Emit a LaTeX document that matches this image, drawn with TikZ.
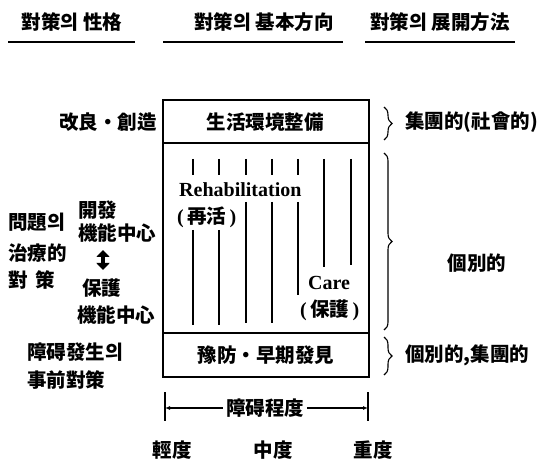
\documentclass[tikz,border=0pt]{standalone}
\usepackage{fontspec}
\setmainfont{Liberation Serif}
\newfontfamily\cjk{Noto Sans CJK KR}
\usetikzlibrary{decorations.pathreplacing,arrows.meta}
\newcommand\cjkfont{\cjk\bfseries\fontsize{19.5}{23}\selectfont}
\tikzset{
  cjktext/.style={inner sep=0pt,font=\cjkfont},
  lattext/.style={inner sep=0pt,font=\bfseries\fontsize{20}{24}\selectfont},
  boxline/.style={line width=1.8pt},
  vline/.style={line width=1.3pt},
  uline/.style={line width=2.4pt},
  rbrace/.style={decorate,decoration={brace,amplitude=8pt},line width=1.1pt},
  ruler/.style={line width=1.2pt},
  fatarrow/.style={line width=4pt,{Triangle[length=7pt,width=13pt]}-{Triangle[length=7pt,width=13pt]}}
}
\begin{document}
\begin{tikzpicture}[x=1pt,y=-1pt]
\useasboundingbox (0,0) rectangle (549,465);
% headers
\node[cjktext] (h1) at (72,22) {對策의 性格};
\node[cjktext] (h2) at (264,22) {對策의 基本方向};
\node[cjktext] (h3) at (440,22) {對策의 展開方法};
\coordinate (u1a) at (8,42); \coordinate (u1b) at (135,42);
\coordinate (u2a) at (163,42); \coordinate (u2b) at (343,42);
\coordinate (u3a) at (365,42); \coordinate (u3b) at (515,42);
\draw[uline] (u1a) -- (u1b);
\draw[uline] (u2a) -- (u2b);
\draw[uline] (u3a) -- (u3b);
% main box
\draw[boxline] (163,100) rectangle (369,377);
\draw[boxline] (163,143) -- (369,143);
\draw[boxline] (163,333) -- (369,333);
\node[cjktext] (top) at (265,122) {生活環境整備};
\node[cjktext] (bot) at (266,355) {豫防・早期發見};
% vertical lines
\foreach \x in {193,219,246,272,298} \draw[vline] (\x,159) -- (\x,175);
\draw[vline] (324,159) -- (324,267);
\draw[vline] (351,159) -- (351,265);
\draw[vline] (246,202) -- (246,323);
\draw[vline] (272,202) -- (272,323);
\draw[vline] (298,202) -- (298,295);
\draw[vline] (193,230) -- (193,325);
\draw[vline] (219,230) -- (219,325);
\node[lattext,anchor=west] (rehab) at (179,190) {Rehabilitation};
\node[lattext,anchor=west] (rehabk) at (177,217) {(\,{\cjkfont 再活}\,)};
\node[lattext,anchor=west] (care) at (308,283) {Care};
\node[lattext,anchor=west] (carek) at (300,310) {(\,{\cjkfont 保護}\,)};
% left texts
\node[cjktext,anchor=east] (kai) at (157,122) {改良・創造};
\node[cjktext,anchor=west] (l1) at (8,222) {問題의};
\node[cjktext,anchor=west] (l2) at (8,253) {治療的};
\node[cjktext,anchor=west] (l3) at (8,280) {對\hspace{8pt}策};
\node[cjktext,anchor=west] (m1) at (78,210) {開發};
\node[cjktext,anchor=west] (m2) at (78,233) {機能中心};
\node[cjktext,anchor=west] (m3) at (82,288) {保護};
\node[cjktext,anchor=west] (m4) at (77,315) {機能中心};
\coordinate (da) at (103,250); \coordinate (db) at (103,270);
\draw[fatarrow] (da) -- (db);
\node[cjktext,anchor=west] (p1) at (27,352) {障碍發生의};
\node[cjktext,anchor=west] (p2) at (27,380) {事前對策};
% right braces
\coordinate (b1a) at (384,107); \coordinate (b1b) at (384,140);
\coordinate (b2a) at (384,153); \coordinate (b2b) at (384,330);
\coordinate (b3a) at (384,337); \coordinate (b3b) at (384,375);
\draw[rbrace] (b1a) -- (b1b);
\draw[rbrace] (b2a) -- (b2b);
\draw[rbrace] (b3a) -- (b3b);
\node[cjktext,anchor=west] (r1) at (405,122) {集團的(社會的)};
\node[cjktext] (r2) at (477,263) {個別的};
\node[cjktext,anchor=west] (r3) at (405,355) {個別的,集團的};
% ruler
\coordinate (t1a) at (165,392); \coordinate (t1b) at (165,421);
\coordinate (t2a) at (368,392); \coordinate (t2b) at (368,421);
\draw[ruler] (t1a) -- (t1b);
\draw[ruler] (t2a) -- (t2b);
\node[cjktext,inner xsep=3pt] (deg) at (265,408) {障碍程度};
\coordinate (ra) at (165,408); \coordinate (rb) at (368,408);
\draw[ruler,-{Latex[length=5pt,width=4pt]}] (deg.west) -- (ra);
\draw[ruler,-{Latex[length=5pt,width=4pt]}] (deg.east) -- (rb);
% bottom labels
\node[cjktext] (d1) at (172,450) {輕度};
\node[cjktext] (d2) at (273,450) {中度};
\node[cjktext] (d3) at (373,450) {重度};
\end{tikzpicture}
\end{document}
